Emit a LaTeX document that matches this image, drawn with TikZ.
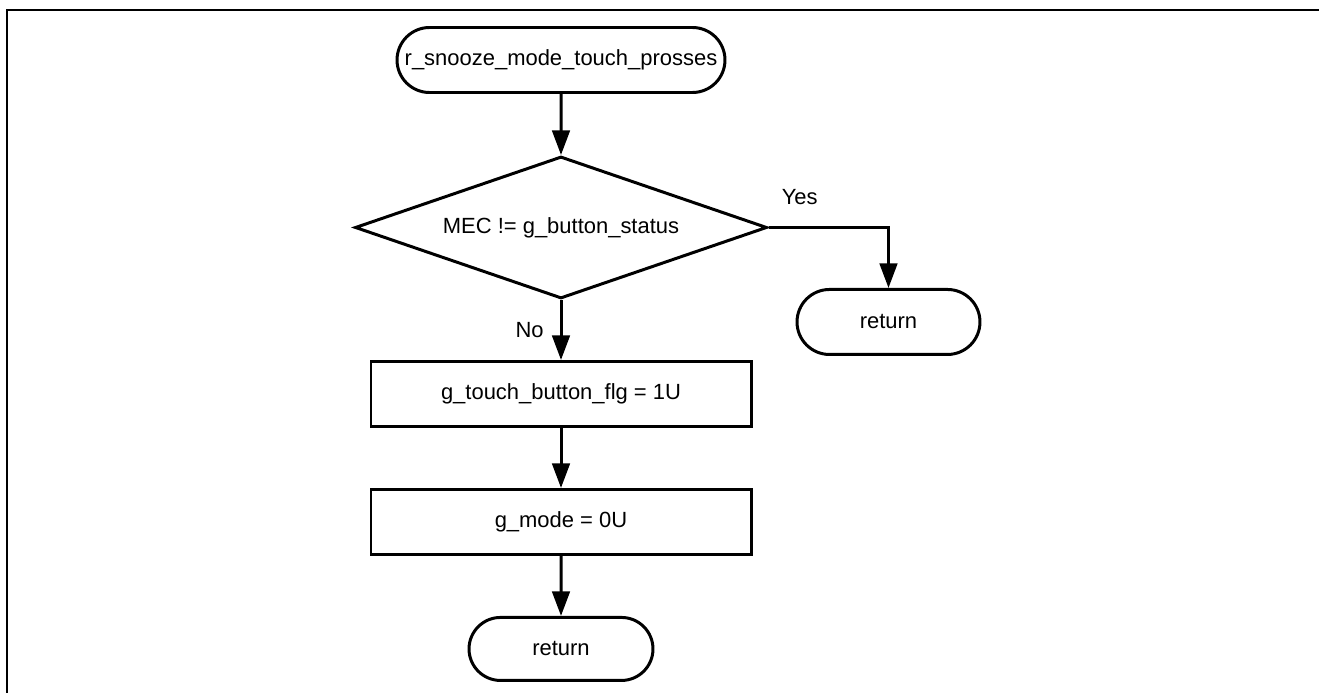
\documentclass[tikz,border=0pt]{standalone}
\usepackage{fontspec}
\setmainfont{Liberation Sans}
\usetikzlibrary{positioning, shapes.geometric, shapes.misc, arrows.meta}

\begin{document}
\begin{tikzpicture}[>={Triangle[length=14pt, width=10pt]}, auto,
    font=\fontsize{12.5}{15}\selectfont, line width=1.7pt,
    term/.style={rounded rectangle, draw, minimum height=1.3cm, inner sep=2pt},
    proc/.style={rectangle, draw, minimum width=7.6cm, minimum height=1.3cm},
    dec/.style={diamond, draw, aspect=2.9, inner sep=0pt, minimum width=8.24cm, minimum height=2.84cm}]
      \useasboundingbox (0,0) rectangle (26.38,-13.86);
      \draw (0.14,-13.86) |- (26.38,-0.2);

      \node[term, minimum width=6.7cm] (start) at (11.22,-1.2) {r\_snooze\_mode\_touch\_prosses};
      \node[dec, below=1.22cm of start] (cond) {MEC != g\_button\_status};
      \node[term, minimum width=3.8cm, below=1.21cm of cond.east, xshift=2.4cm] (ret1) {return};
      \node[proc, below=1.2cm of cond] (flag) {g\_touch\_button\_flg = 1U};
      \node[proc, below=1.2cm of flag] (mode) {g\_mode = 0U};
      \node[term, minimum width=3.82cm, minimum height=1.26cm, below=1.2cm of mode] (ret2) {return};

      \draw[->] (start) -- (cond);
      \draw[->] (cond.east) -| node[pos=0.13, above=0.3cm] {Yes} (ret1.north);
      \draw[->] (cond) -- node[left=0.2cm] {No} (flag);
      \draw[->] (flag) -- (mode);
      \draw[->] (mode) -- (ret2);
\end{tikzpicture}
\end{document}
